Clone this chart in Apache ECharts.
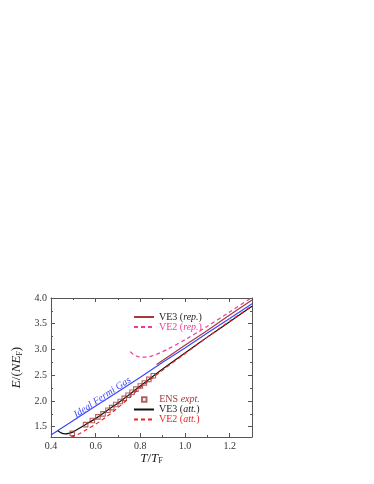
<!DOCTYPE html>
<html>
<head>
<meta charset="utf-8">
<script src="https://cdn.jsdelivr.net/npm/echarts@6/dist/echarts.min.js"></script>
<style>html,body{margin:0;background:#fff}#main{width:374px;height:484px}</style>
</head>
<body>
<div id="main"></div>
<script>
// tick values
const xLabels = [0.4, 0.6, 0.8, 1.0, 1.2]
const xMinor = [0.5, 0.7, 0.9, 1.1]
const yLabels = [1.5, 2.0, 2.5, 3.0, 3.5, 4.0]
const yMinor = [1.75, 2.25, 2.75, 3.25, 3.75]

// ideal Fermi gas
const idealT = [0.4, 0.5, 0.6, 0.7, 0.8, 0.9, 1.0, 1.1, 1.2, 1.3]
const idealE = [1.34, 1.62, 1.90, 2.18, 2.46, 2.75, 3.03, 3.32, 3.60, 3.89]
// ENS experiment
const ensT = [0.495, 0.555, 0.585, 0.610, 0.633, 0.655, 0.672, 0.690, 0.710, 0.728, 0.745, 0.763, 0.780, 0.800, 0.818, 0.838, 0.858]
const ensE = [1.37, 1.54, 1.62, 1.69, 1.75, 1.82, 1.87, 1.93, 1.99, 2.05, 2.11, 2.17, 2.23, 2.29, 2.35, 2.42, 2.49]
// VE3 (att.)
const ve3attT = [0.43, 0.445, 0.463, 0.48, 0.5, 0.55, 0.6, 0.65, 0.7, 0.75, 0.8, 0.9, 1.0, 1.1, 1.2, 1.3]
const ve3attE = [1.42, 1.38, 1.36, 1.37, 1.40, 1.53, 1.66, 1.81, 1.96, 2.12, 2.29, 2.62, 2.93, 3.24, 3.54, 3.84]
// VE2 (att.)
const ve2attT = [0.49, 0.52, 0.55, 0.6, 0.65, 0.7, 0.75, 0.8, 0.9, 1.0, 1.1, 1.2, 1.3]
const ve2attE = [1.30, 1.35, 1.42, 1.55, 1.70, 1.87, 2.06, 2.26, 2.60, 2.92, 3.24, 3.55, 3.85]
// VE3 (rep.)
const ve3repT = [0.873, 1.0, 1.1, 1.2, 1.3]
const ve3repE = [2.71, 3.08, 3.37, 3.67, 3.96]
// VE2 (rep.)
const ve2repT = [0.755, 0.77, 0.79, 0.81, 0.83, 0.85, 0.88, 0.92, 1.0, 1.1, 1.2, 1.3]
const ve2repE = [2.96, 2.90, 2.86, 2.85, 2.855, 2.87, 2.92, 3.00, 3.19, 3.45, 3.73, 4.01]

const pairs = (a, b) => a.map((v, i) => [v, b[i]])

const serif = 'Liberation Serif'
const frame = '#555'

function tickAxis(pos, min, max, vals, len, showLine, labels) {
    return {
        type: 'value', position: pos, min: min, max: max,
        axisLine: { show: showLine, onZero: false, lineStyle: { color: frame, width: 1 } },
        splitLine: { show: false },
        axisTick: { show: true, inside: true, length: len, customValues: vals, lineStyle: { color: frame } },
        axisLabel: labels ? {
            show: true, customValues: vals, formatter: v => v.toFixed(1),
            fontFamily: serif, fontSize: 10, color: '#333', margin: 4
        } : { show: false }
    }
}

let xMain = tickAxis('bottom', 0.4, 1.3, xLabels, 4, true, true)
xMain.name = '{i|T}{n|/}{i|T}{s|F}'
xMain.nameLocation = 'middle'
xMain.nameGap = 11
xMain.nameTextStyle = {
    rich: {
        i: { fontFamily: serif, fontStyle: 'italic', fontSize: 13, color: '#222' },
        n: { fontFamily: serif, fontSize: 13, color: '#222' },
        s: { fontFamily: serif, fontSize: 8, color: '#222', padding: [6, 0, 0, 0] }
    }
}
let yMain = tickAxis('left', 1.3, 4.0, yLabels, 4, true, true)
yMain.name = '{i|E}{n|/(}{i|NE}{s|F}{n|)}'
yMain.nameLocation = 'middle'
yMain.nameGap = 15
yMain.nameTextStyle = xMain.nameTextStyle

const lineSeries = (name, t, e, color, type, smooth) => ({
    name: name, type: 'line', data: pairs(t, e), symbol: 'none', smooth: smooth,
    lineStyle: { color: color, width: 1.2, type: type },
    itemStyle: { color: color }, z: 3
})

const fs = 10
const rich = {
    k: { fontFamily: serif, fontSize: fs, color: '#222' },
    ki: { fontFamily: serif, fontSize: fs, color: '#222', fontStyle: 'italic' },
    p: { fontFamily: serif, fontSize: fs, color: '#ee3a9c' },
    pi: { fontFamily: serif, fontSize: fs, color: '#ee3a9c', fontStyle: 'italic' },
    r: { fontFamily: serif, fontSize: fs, color: '#f02222' },
    ri: { fontFamily: serif, fontSize: fs, color: '#f02222', fontStyle: 'italic' },
    d: { fontFamily: serif, fontSize: fs, color: '#a33a3a' },
    di: { fontFamily: serif, fontSize: fs, color: '#a33a3a', fontStyle: 'italic' }
}
const legendText = {
    'VE3 (rep.)': '{k|VE3 (}{ki|rep.}{k|)}',
    'VE2 (rep.)': '{p|VE2 (}{pi|rep.}{p|)}',
    'ENS expt.': '{d|ENS }{di|expt.}',
    'VE3 (att.)': '{k|VE3 (}{ki|att.}{k|)}',
    'VE2 (att.)': '{r|VE2 (}{ri|att.}{r|)}'
}
const noDot = n => ({ name: n, itemStyle: { opacity: 0 } })

const legendBase = (names, left, top, h) => ({
    data: names, orient: 'vertical', left: left, top: top, padding: 0,
    itemWidth: 20, itemHeight: h, itemGap: 0,
    formatter: n => legendText[n],
    textStyle: { rich: rich, lineHeight: 9.5 }
})

var myChart = echarts.init(document.getElementById('main'))
let option = {
    animation: false,
    backgroundColor: '#fff',
    grid: { left: 51, right: 122, top: 298, bottom: 47 },
    xAxis: [
        xMain,
        tickAxis('bottom', 0.4, 1.3, xMinor, 2, false, false),
        tickAxis('top', 0.4, 1.3, xLabels, 4, true, false),
        tickAxis('top', 0.4, 1.3, xMinor, 2, false, false)
    ],
    yAxis: [
        yMain,
        tickAxis('left', 1.3, 4.0, yMinor, 2, false, false),
        tickAxis('right', 1.3, 4.0, yLabels, 4, true, false),
        tickAxis('right', 1.3, 4.0, yMinor, 2, false, false)
    ],
    legend: [
        legendBase([noDot('VE3 (rep.)'), noDot('VE2 (rep.)')], 133, 312, 9),
        legendBase([{ name: 'ENS expt.', icon: 'path://M0,0L10,0L10,10L0,10Z' }], 141, 394.5, 4.5),
        legendBase([noDot('VE3 (att.)'), noDot('VE2 (att.)')], 133, 404.5, 9)
    ],
    series: [
        {
            name: 'Ideal Fermi Gas', type: 'line', data: pairs(idealT, idealE), symbol: 'none',
            lineStyle: { color: '#3a46ff', width: 1.2 }, itemStyle: { color: '#3a46ff' }, z: 2,
            markPoint: {
                symbol: 'circle', symbolSize: 1, itemStyle: { color: 'rgba(0,0,0,0)' },
                data: [{ coord: [0.63, 2.07] }],
                label: {
                    show: true, position: 'inside', rotate: 33.5, formatter: 'Ideal Fermi Gas',
                    fontFamily: serif, fontStyle: 'italic', fontSize: 10, color: '#3a46ff'
                }
            }
        },
        lineSeries('VE2 (rep.)', ve2repT, ve2repE, '#ee3a9c', [4, 3], 0.3),
        lineSeries('VE3 (rep.)', ve3repT, ve3repE, '#a33a3a', 'solid', false),
        lineSeries('VE3 (att.)', ve3attT, ve3attE, '#111', 'solid', 0.3),
        lineSeries('VE2 (att.)', ve2attT, ve2attE, '#f02222', [4, 3], 0.3),
        {
            name: 'ENS expt.', type: 'scatter', data: pairs(ensT, ensE),
            symbol: 'rect', symbolSize: 4.5,
            itemStyle: { color: 'rgba(255,255,255,0)', borderColor: '#a33a3a', borderWidth: 1.1 }, z: 5
        }
    ]
}
myChart.setOption(option)
</script>
</body>
</html>
